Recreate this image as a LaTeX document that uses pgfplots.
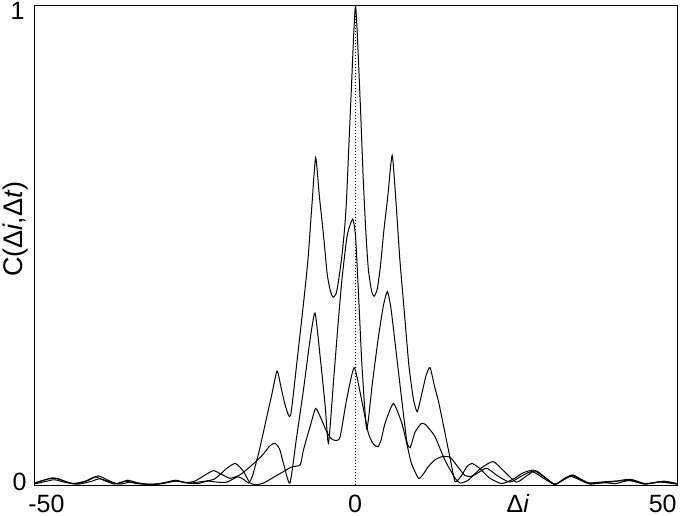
\documentclass[border=0pt]{standalone}
\usepackage{fontspec}
\setmainfont{Liberation Sans}
\usepackage{pgfplots}
\pgfplotsset{compat=1.18}
\begin{document}
\begin{tikzpicture}[lab/.style={font=\fontsize{12.5}{15}\selectfont, inner sep=0pt}]
\path[use as bounding box] (-17pt,-15pt) rectangle (323pt,242.5pt);
\begin{axis}[
  at={(0,0)}, anchor=south west,
  width=321.5pt, height=239.5pt, scale only axis,
  xmin=-50, xmax=50, ymin=0, ymax=1,
  xtick=\empty, ytick=\empty,
  axis line style={line width=0.5pt},
  cycle list={{black, mark=none}},
  every axis plot/.append style={line width=0.5pt, smooth, tension=0.35},
]
  % zero line
  \addplot[black, line width=0.4pt, dash pattern=on 0.5pt off 1pt, sharp plot] coordinates {(0,0) (0,1)};
  % curve with peak 1
  \addplot coordinates {
    (-50,0.004) (-48.5,0.010) (-47,0.015) (-45.5,0.009) (-44,0.003) (-42,0.008)
    (-40.5,0.017) (-39,0.009) (-37.5,0.002) (-35.8,0.008) (-34,0.003) (-31.5,0.001)
    (-29.5,0.005) (-27.8,0.009) (-26,0.004) (-24.5,0.003) (-23,0.008) (-21.5,0.006)
    (-20,0.006) (-18.3,0.017) (-17.2,0.010) (-16.6,0.004) (-16,0.02) (-15,0.07)
    (-14,0.13) (-13,0.19) (-12.2,0.238) (-11.6,0.205) (-10.9,0.165) (-10.1,0.145)
    (-9,0.27) (-8,0.39) (-7.4,0.47) (-6.8,0.58) (-6.2,0.683) (-5.6,0.60) (-5,0.525)
    (-4.4,0.44) (-3.9,0.405) (-3.5,0.392) (-3.0,0.40) (-2.6,0.43) (-2.1,0.48)
    (-1.7,0.535) (-1.4,0.595) (-0.7,0.81) (0,1.0) (0.7,0.81) (1.2,0.64) (1.6,0.53)
    (2.0,0.45) (2.5,0.405) (2.9,0.394) (3.4,0.41) (3.9,0.46) (4.4,0.53) (5.0,0.60)
    (5.7,0.688) (6.3,0.59) (6.9,0.47) (7.6,0.36) (8.3,0.25) (9.0,0.18) (9.6,0.153)
    (10.3,0.19) (11.0,0.23) (11.6,0.245) (12.3,0.205) (12.9,0.175) (13.9,0.11)
    (14.8,0.05) (15.5,0.007) (16.5,0.02) (17.3,0.038) (18.1,0.045) (19.3,0.035)
    (20.8,0.015) (22.7,0.003) (24.5,0.012) (26,0.025) (27.7,0.031) (29.5,0.015)
    (31,0.002) (32.5,0.012) (33.6,0.02) (35,0.012) (36.5,0.002) (38.5,0.005)
    (40.5,0.003) (42.7,0.010) (45,0.002) (47.4,0.007) (50,0.002)};
  % second curve
  \addplot coordinates {
    (-50,0.003) (-48,0.012) (-46.5,0.014) (-45,0.007) (-43.5,0.002) (-41.5,0.010)
    (-40,0.019) (-38.5,0.010) (-37,0.002) (-35.5,0.010) (-34,0.005) (-32,0.001)
    (-30,0.004) (-28,0.010) (-26.5,0.005) (-25,0.008) (-23.5,0.020) (-22.1,0.030)
    (-20.8,0.022) (-19.5,0.014) (-18,0.021) (-16.4,0.038) (-14.5,0.062) (-13.3,0.082)
    (-12.5,0.087) (-11.8,0.075) (-11.2,0.045) (-10.2,0.004) (-9.2,0.096) (-8.1,0.198)
    (-7.1,0.30) (-6.3,0.359) (-5.5,0.268) (-4.7,0.163) (-4.2,0.087) (-3.4,0.22)
    (-2.7,0.338) (-2.1,0.43) (-1.3,0.52) (-0.44,0.555) (0,0.52) (0.44,0.407)
    (1.0,0.25) (1.74,0.118) (2.6,0.21) (3.5,0.303) (4.3,0.372) (4.95,0.404)
    (5.5,0.37) (6.1,0.303) (7.2,0.177) (8.0,0.09) (8.5,0.078) (9.25,0.11)
    (10.2,0.128) (10.8,0.127) (11.6,0.115) (12.4,0.10) (13.9,0.052) (15.5,0.014)
    (16.3,0.004) (17.5,0.010) (19.5,0.035) (21.4,0.049) (23,0.030) (25,0.006)
    (26.5,0.018) (28,0.030) (29.5,0.016) (31,0.001) (32.5,0.014) (33.8,0.021)
    (35.2,0.011) (36.7,0.003) (39.5,0.006) (42.7,0.012) (45,0.003) (47.4,0.006)
    (50,0.002)};
  % third curve
  \addplot coordinates {
    (-50,0.002) (-48,0.008) (-46.8,0.011) (-45,0.005) (-43,0.002) (-41,0.008)
    (-39.8,0.013) (-38,0.006) (-36.5,0.002) (-35,0.006) (-33,0.002) (-30.5,0.002)
    (-28,0.008) (-26,0.004) (-24.5,0.006) (-22,0.012) (-20,0.035) (-18.7,0.045)
    (-17.5,0.030) (-16.4,0.004) (-15.4,0.001) (-14.3,0.004) (-12.5,0.018) (-11.2,0.028)
    (-9.9,0.038) (-8.6,0.042) (-8.1,0.073) (-7,0.125) (-6.2,0.16) (-5.4,0.14)
    (-4.5,0.112) (-3.8,0.097) (-3.1,0.093) (-2.4,0.10) (-1.4,0.177) (-0.2,0.245)
    (0.96,0.177) (2.0,0.108) (2.8,0.085) (3.5,0.08) (4.0,0.095) (4.6,0.129)
    (5.9,0.17) (7.2,0.129) (8.0,0.085) (8.7,0.045) (9.8,0.014) (10.5,0.022)
    (11.3,0.038) (12.3,0.052) (13.4,0.059) (14.7,0.058) (15.8,0.040) (17.0,0.020)
    (18.0,0.018) (19,0.025) (20.4,0.035) (22,0.020) (24,0.006) (26,0.020)
    (27.5,0.028) (29.5,0.012) (31,0.001) (32.5,0.012) (33.5,0.018) (35,0.010)
    (36,0.004) (39,0.007) (42.7,0.009) (45,0.002) (48,0.008) (50,0.003)};
\end{axis}
% tick labels and axis labels
\node[lab, anchor=base west] at (-3pt,-13.5pt) {-50};
\node[lab, anchor=base] at (160.5pt,-13.5pt) {0};
\node[lab, anchor=base east] at (321.5pt,-13.5pt) {50};
\node[lab, anchor=base] at (242pt,-13.5pt) {Δ\textit{i}};
\node[lab, anchor=east] at (-4.5pt,237pt) {1};
\node[lab, anchor=east] at (-3.5pt,1.75pt) {0};
\node[lab, font=\fontsize{13.5}{16}\selectfont, anchor=base, rotate=90] at (-6pt,128pt) {C(Δ\textit{i},Δ\textit{t})};
\end{tikzpicture}
\end{document}
